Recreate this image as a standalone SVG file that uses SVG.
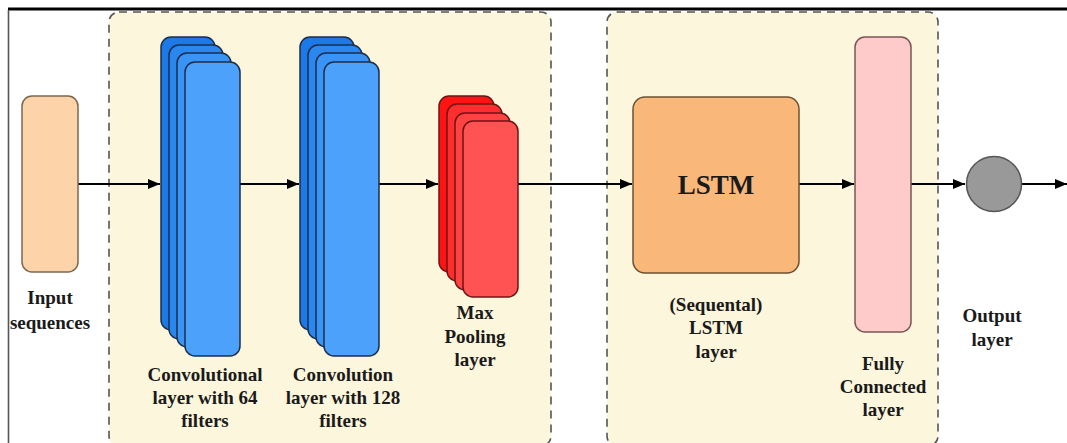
<svg xmlns="http://www.w3.org/2000/svg" width="1067" height="443" viewBox="0 0 1067 443">
  <style>
    .lbl { font-family: 'Liberation Serif', 'DejaVu Serif', serif; font-weight: 700; font-size: 19px; fill: #1a1a1a; text-anchor: middle; }
    .group { fill: #fcf6dc; stroke: #555; stroke-width: 1.6; stroke-dasharray: 8 6; }
    .conv rect { stroke: #1c2e4a; stroke-width: 1.5; }
    .pool rect { stroke: #6e1414; stroke-width: 1.5; }
    .edge { stroke: #000; stroke-width: 2.2; fill: none; marker-end: url(#arrow); }
  </style>
  <defs>
    <marker id="arrow" viewBox="0 0 12 10" refX="12" refY="5" markerWidth="13" markerHeight="10" markerUnits="userSpaceOnUse" orient="auto">
      <path d="M0,0 L12,5 L0,10 Z" fill="#000"/>
    </marker>
  </defs>

  <rect width="1067" height="443" fill="#fff"/>
  <!-- frame edges -->
  <line x1="8" y1="9" x2="1067" y2="9" stroke="#000" stroke-width="3"/>
  <line x1="8.5" y1="10" x2="8.5" y2="443" stroke="#555" stroke-width="1.6"/>

  <!-- dashed grouping panels -->
  <g id="cnn-block">
    <rect class="group" x="109" y="12" width="442" height="434" rx="10"/>
  </g>
  <g id="lstm-block">
    <rect class="group" x="607" y="12" width="331" height="434" rx="10"/>
  </g>

  <!-- connectors -->
  <g id="connectors">
    <line class="edge" x1="78" y1="184" x2="160" y2="184"/>
    <line class="edge" x1="240" y1="184" x2="299" y2="184"/>
    <line class="edge" x1="379" y1="184" x2="438" y2="184"/>
    <line class="edge" x1="518" y1="184" x2="632" y2="184"/>
    <line class="edge" x1="799" y1="184" x2="854" y2="184"/>
    <line class="edge" x1="911" y1="184" x2="965" y2="184"/>
    <line class="edge" x1="1022" y1="184" x2="1067" y2="184"/>
  </g>

  <g id="input">
    <rect x="22" y="96" width="56" height="176" rx="10" fill="#fdd4aa" stroke="#7d6650" stroke-width="1.5"/>
    <text class="lbl" x="50" y="304" font-family="Liberation Serif">Input</text>
    <text class="lbl" x="50" y="329" font-family="Liberation Serif">sequences</text>
  </g>

  <g id="conv64" class="conv">
    <rect x="161" y="37" width="54" height="293" rx="10" fill="#1b7ae8"/>
    <rect x="169" y="45" width="54" height="294" rx="10" fill="#2a87ef"/>
    <rect x="177" y="53" width="54" height="294" rx="10" fill="#3a94f6"/>
    <rect x="185" y="62" width="55" height="294" rx="10" fill="#4ca2fb"/>
    <text class="lbl" x="205" y="381">Convolutional</text>
    <text class="lbl" x="205" y="404">layer with 64</text>
    <text class="lbl" x="205" y="427">filters</text>
  </g>

  <g id="conv128" class="conv">
    <rect x="300" y="37" width="54" height="293" rx="10" fill="#1b7ae8"/>
    <rect x="308" y="45" width="54" height="294" rx="10" fill="#2a87ef"/>
    <rect x="316" y="53" width="54" height="294" rx="10" fill="#3a94f6"/>
    <rect x="324" y="62" width="55" height="294" rx="10" fill="#4ca2fb"/>
    <text class="lbl" x="343" y="381">Convolution</text>
    <text class="lbl" x="343" y="404">layer with 128</text>
    <text class="lbl" x="343" y="427">filters</text>
  </g>

  <g id="maxpool" class="pool">
    <rect x="439" y="96" width="55" height="176" rx="10" fill="#ff1414"/>
    <rect x="447" y="104" width="55" height="177" rx="10" fill="#ff2e2e"/>
    <rect x="455" y="113" width="55" height="177" rx="10" fill="#ff4242"/>
    <rect x="463" y="121" width="55" height="176" rx="10" fill="#ff5252"/>
    <text class="lbl" x="475" y="319">Max</text>
    <text class="lbl" x="475" y="343">Pooling</text>
    <text class="lbl" x="475" y="366">layer</text>
  </g>

  <g id="lstm">
    <rect x="633" y="97" width="166" height="176" rx="12" fill="#f9b87a" stroke="#6e5030" stroke-width="1.5"/>
    <text class="lbl" x="716" y="194" style="font-size:27px">LSTM</text>
    <text class="lbl" x="716" y="311">(Sequental)</text>
    <text class="lbl" x="716" y="334">LSTM</text>
    <text class="lbl" x="716" y="358">layer</text>
  </g>

  <g id="dense">
    <rect x="855" y="37" width="56" height="295" rx="10" fill="#ffcaca" stroke="#7a5656" stroke-width="1.5"/>
    <text class="lbl" x="883" y="370">Fully</text>
    <text class="lbl" x="883" y="393">Connected</text>
    <text class="lbl" x="883" y="416">layer</text>
  </g>

  <g id="output">
    <circle cx="994" cy="184" r="27.5" fill="#999" stroke="#555" stroke-width="1.5"/>
    <text class="lbl" x="992" y="322">Output</text>
    <text class="lbl" x="992" y="346">layer</text>
  </g>
</svg>
